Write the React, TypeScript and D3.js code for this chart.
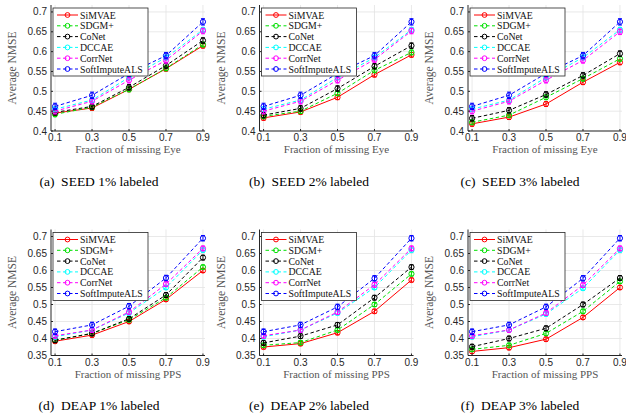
import React from 'react';
import * as d3 from 'd3';

// fraction of missing view (x axis)
const fractions = [0.1, 0.3, 0.5, 0.7, 0.9];
const methods = ['SiMVAE', 'SDGM+', 'CoNet', 'DCCAE', 'CorrNet', 'SoftImputeALS'];
const colors = ['#ff0000', '#00e000', '#000000', '#00ffff', '#ff00ff', '#0000ff'];
const errs = [0.006, 0.006, 0.007, 0.006, 0.007, 0.008];

// average NMSE, one row per method (same order as methods)
const seed1 = [
  [0.445, 0.458, 0.505, 0.557, 0.615],
  [0.442, 0.46, 0.505, 0.558, 0.618],
  [0.447, 0.462, 0.51, 0.565, 0.628],
  [0.455, 0.478, 0.535, 0.585, 0.655],
  [0.45, 0.475, 0.528, 0.578, 0.652],
  [0.462, 0.49, 0.545, 0.59, 0.675],
];
const seed2 = [
  [0.433, 0.448, 0.485, 0.542, 0.592],
  [0.437, 0.45, 0.495, 0.553, 0.598],
  [0.44, 0.457, 0.507, 0.563, 0.615],
  [0.455, 0.478, 0.535, 0.585, 0.655],
  [0.45, 0.475, 0.528, 0.58, 0.652],
  [0.462, 0.49, 0.545, 0.59, 0.675],
];
const seed3 = [
  [0.418, 0.435, 0.468, 0.523, 0.573],
  [0.422, 0.44, 0.485, 0.532, 0.582],
  [0.432, 0.452, 0.492, 0.54, 0.595],
  [0.455, 0.478, 0.535, 0.585, 0.655],
  [0.45, 0.475, 0.528, 0.578, 0.65],
  [0.462, 0.49, 0.545, 0.59, 0.675],
];
const deap1 = [
  [0.392, 0.41, 0.45, 0.515, 0.6],
  [0.395, 0.415, 0.455, 0.52, 0.61],
  [0.395, 0.415, 0.458, 0.528, 0.638],
  [0.405, 0.425, 0.475, 0.55, 0.66],
  [0.408, 0.425, 0.478, 0.56, 0.665],
  [0.42, 0.44, 0.495, 0.578, 0.695],
];
const deap2 = [
  [0.375, 0.385, 0.417, 0.48, 0.572],
  [0.38, 0.388, 0.425, 0.5, 0.59],
  [0.387, 0.407, 0.44, 0.52, 0.61],
  [0.405, 0.425, 0.475, 0.55, 0.66],
  [0.408, 0.425, 0.478, 0.558, 0.665],
  [0.42, 0.44, 0.493, 0.577, 0.695],
];
const deap3 = [
  [0.362, 0.373, 0.398, 0.462, 0.55],
  [0.368, 0.38, 0.415, 0.48, 0.568],
  [0.376, 0.4, 0.43, 0.5, 0.578],
  [0.405, 0.425, 0.472, 0.548, 0.66],
  [0.408, 0.425, 0.475, 0.557, 0.665],
  [0.42, 0.44, 0.493, 0.577, 0.695],
];

const seedTicks = [0.4, 0.45, 0.5, 0.55, 0.6, 0.65, 0.7];
const deapTicks = [0.35, 0.4, 0.45, 0.5, 0.55, 0.6, 0.65, 0.7];

const rows = [
  { top: 5, bottom: 131, domain: [0.4, 0.7175], ticks: seedTicks, view: 'Eye', capY: 186 },
  { top: 229.5, bottom: 355.5, domain: [0.35, 0.7206], ticks: deapTicks, view: 'PPS', capY: 410 },
];
const colX = [0, 208.5, 417];
const capX = [99, 309, 520];

const panels = [
  { data: seed1, row: 0, col: 0, caption: '(a)  SEED 1% labeled' },
  { data: seed2, row: 0, col: 1, caption: '(b)  SEED 2% labeled' },
  { data: seed3, row: 0, col: 2, caption: '(c)  SEED 3% labeled' },
  { data: deap1, row: 1, col: 0, caption: '(d)  DEAP 1% labeled' },
  { data: deap2, row: 1, col: 1, caption: '(e)  DEAP 2% labeled' },
  { data: deap3, row: 1, col: 2, caption: '(f)  DEAP 3% labeled' },
];

const sans = 'Liberation Sans, Arial, sans-serif';
const serif = 'Liberation Serif, Times New Roman, serif';
const axisCol = '#262626';

function Panel({ p }) {
  const r = rows[p.row];
  const ox = colX[p.col];
  const x = d3.scaleLinear().domain([0.078, 0.911]).range([ox + 51, ox + 205]);
  const y = d3.scaleLinear().domain(r.domain).range([r.bottom, r.top]);
  const line = d3.line<number>().x((_, i) => x(fractions[i])).y(d => y(d));
  const [x0, x1] = x.range();

  return (
    <g>
      {/* grid */}
      {fractions.map(f => (
        <line key={'gx' + f} x1={x(f)} x2={x(f)} y1={r.top} y2={r.bottom} stroke="#e3e3e3" strokeWidth={0.8} />
      ))}
      {r.ticks.map(t => (
        <line key={'gy' + t} x1={x0} x2={x1} y1={y(t)} y2={y(t)} stroke="#e3e3e3" strokeWidth={0.8} />
      ))}

      {/* series */}
      {p.data.map((vals, m) => (
        <g key={methods[m]}>
          <path d={line(vals)} fill="none" stroke={colors[m]} strokeWidth={1}
            strokeDasharray={m === 0 ? undefined : '3.5,2.5'} />
          {vals.map((v, i) => {
            const cx = x(fractions[i]);
            const e = errs[m];
            return (
              <g key={i} stroke={colors[m]} strokeWidth={1} fill="none">
                <line x1={cx} x2={cx} y1={y(v - e)} y2={y(v + e)} />
                <line x1={cx - 2} x2={cx + 2} y1={y(v - e)} y2={y(v - e)} />
                <line x1={cx - 2} x2={cx + 2} y1={y(v + e)} y2={y(v + e)} />
                <circle cx={cx} cy={y(v)} r={2.6} />
              </g>
            );
          })}
        </g>
      ))}

      {/* axes */}
      <line x1={x0} x2={x1} y1={r.bottom} y2={r.bottom} stroke={axisCol} strokeWidth={1} />
      <line x1={x0} x2={x0} y1={r.top} y2={r.bottom} stroke={axisCol} strokeWidth={1} />
      {fractions.map(f => (
        <g key={'tx' + f}>
          <line x1={x(f)} x2={x(f)} y1={r.bottom} y2={r.bottom - 2} stroke={axisCol} />
          <text x={x(f)} y={r.bottom + 10} textAnchor="middle" fontFamily={sans} fontSize={10} fill={axisCol}>
            {f}
          </text>
        </g>
      ))}
      {r.ticks.map(t => (
        <g key={'ty' + t}>
          <line x1={x0} x2={x0 + 2} y1={y(t)} y2={y(t)} stroke={axisCol} />
          <text x={x0 - 4} y={y(t) + 3.5} textAnchor="end" fontFamily={sans} fontSize={10} fill={axisCol}>
            {String(+t.toFixed(2))}
          </text>
        </g>
      ))}
      <text x={(x0 + x1) / 2} y={r.bottom + 22} textAnchor="middle" fontFamily={serif} fontSize={11} fill="#555">
        Fraction of missing {r.view}
      </text>
      <text transform={`translate(${ox + 16},${(r.top + r.bottom) / 2}) rotate(-90)`} textAnchor="middle"
        fontFamily={serif} fontSize={11.5} fill="#555">
        Average NMSE
      </text>

      {/* legend */}
      <g>
        <rect x={ox + 53} y={r.top + 3} width={95} height={68} fill="#fff" stroke={axisCol} strokeWidth={0.8} />
        {methods.map((name, m) => {
          const ly = r.top + 10 + m * 10.8;
          return (
            <g key={'lg' + name}>
              <line x1={ox + 57} x2={ox + 78} y1={ly} y2={ly} stroke={colors[m]} strokeWidth={1}
                strokeDasharray={m === 0 ? undefined : '3.5,2.5'} />
              <circle cx={ox + 67.5} cy={ly} r={2.4} fill="none" stroke={colors[m]} strokeWidth={1} />
              <text x={ox + 80} y={ly + 3.5} fontFamily={serif} fontSize={9.8} fill="#111">
                {name}
              </text>
            </g>
          );
        })}
      </g>

      {/* caption */}
      <text x={capX[p.col]} y={r.capY} textAnchor="middle" fontFamily={serif} fontSize={13.5} fill="#000"
        style={{ whiteSpace: 'pre' }}>
        {p.caption}
      </text>
    </g>
  );
}

export default function App() {
  return (
    <svg width={626} height={418} style={{ display: 'block', position: 'absolute', left: 0, top: 0, background: '#fff' }}>
      <rect width={626} height={418} fill="#fff" />
      {panels.map((p, i) => (
        <Panel key={i} p={p} />
      ))}
    </svg>
  );
}
